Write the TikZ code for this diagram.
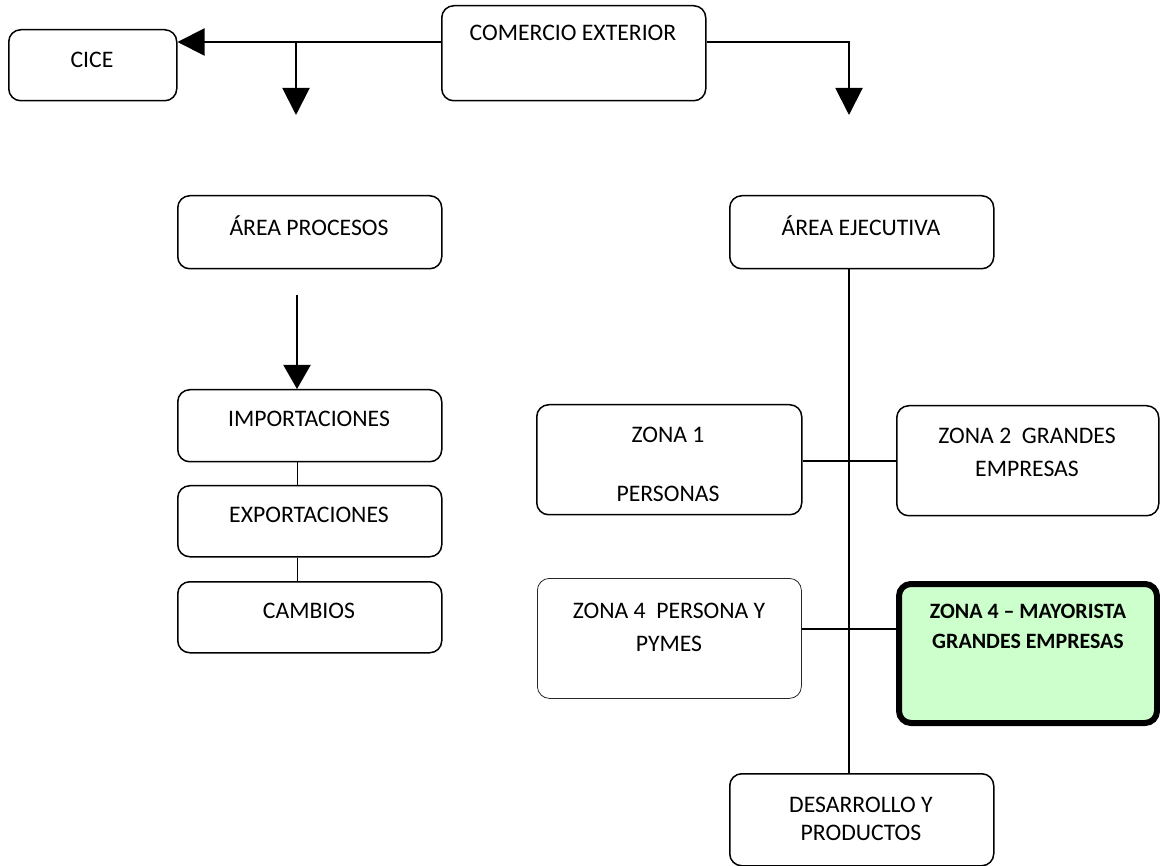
\documentclass[tikz,border=0pt]{standalone}
\usepackage{fontspec}
\setmainfont{Carlito}
\usetikzlibrary{arrows.meta}
\definecolor{lightgreen}{HTML}{CCFFCC}
\begin{document}
\begin{tikzpicture}[x=1pt,y=-1pt,
  box/.style={draw, line width=1.5pt, rounded corners=12pt, inner sep=0pt, anchor=north west},
  txt/.style={anchor=base, inner sep=0pt, font=\fontsize{23.7}{33}\selectfont},
  btxt/.style={anchor=base, inner sep=0pt, font=\fontsize{21.9}{30}\selectfont\bfseries},
  conn/.style={line width=2pt},
  thin/.style={line width=1pt},
  arr/.style={conn, -{Triangle[length=27pt,width=27pt]}},
  arrs/.style={conn, -{Triangle[length=24pt,width=27pt]}}]
\useasboundingbox (0,0) rectangle (1160,866);
% boxes
\node[box, minimum width=168pt, minimum height=71pt] (cice) at (8,29) {};
\node[box, minimum width=264pt, minimum height=95pt] (com) at (441,5) {};
\node[box, minimum width=264pt, minimum height=73pt] (proc) at (177,195) {};
\node[box, minimum width=264pt, minimum height=72pt] (imp) at (177,389) {};
\node[box, minimum width=264pt, minimum height=71pt] (exp) at (177,485) {};
\node[box, minimum width=264pt, minimum height=71pt] (cam) at (177,581) {};
\node[box, minimum width=264pt, minimum height=73pt] (ejec) at (729,195) {};
\node[box, minimum width=265pt, minimum height=110pt] (z1) at (536,404) {};
\node[box, minimum width=262pt, minimum height=110pt] (z2) at (896,405) {};
\node[box, line width=0.8pt, draw=black!85, minimum width=264pt, minimum height=120pt] (z4) at (537,578) {};
\node[box, line width=6pt, fill=lightgreen, minimum width=258pt, minimum height=139pt] (z4m) at (896,581) {};
\node[box, minimum width=264pt, minimum height=92pt] (des) at (729,773) {};
% texts
\node[txt] (tcice) at (92,68) {CICE};
\node[txt] (tcom) at (573,41) {COMERCIO EXTERIOR};
\node[txt] (tproc) at (309,236) {ÁREA PROCESOS};
\node[txt] (timp) at (309,427) {IMPORTACIONES};
\node[txt] (texp) at (309,522) {EXPORTACIONES};
\node[txt] (tcam) at (309,618) {CAMBIOS};
\node[txt] (tejec) at (861,236) {ÁREA EJECUTIVA};
\node[txt] (tz1a) at (668,443) {ZONA 1};
\node[txt] (tz1b) at (668,501) {PERSONAS};
\node[txt] (tz2a) at (1027,444) {ZONA 2\ \ GRANDES};
\node[txt] (tz2b) at (1027,477) {EMPRESAS};
\node[txt] (tz4a) at (669,618) {ZONA 4\ \ PERSONA Y};
\node[txt] (tz4b) at (669,651) {PYMES};
\node[btxt] (tz4ma) at (1028,618) {ZONA 4 – MAYORISTA};
\node[btxt] (tz4mb) at (1028,648) {GRANDES EMPRESAS};
\node[txt] (tdesa) at (861,812) {DESARROLLO Y};
\node[txt] (tdesb) at (861,840) {PRODUCTOS};
% coordinates
\coordinate (topy) at (0,42);
\coordinate (dl) at (296,115);
\coordinate (dr) at (849,115);
\coordinate (ps) at (297,295);
\coordinate (spine) at (849,0);
\coordinate (row1) at (0,461);
\coordinate (row2) at (0,629);
% connectors
\draw[arr] (com.west |- topy) -- (cice.east |- topy);
\draw[arr] (dl |- topy) -- (dl);
\draw[arr] (com.east |- topy) -| (dr);
\draw[arrs] (ps) -- (ps |- imp.north);
\draw[thin] (ps |- imp.south) -- (ps |- exp.north);
\draw[thin] (ps |- exp.south) -- (ps |- cam.north);
\draw[conn] (spine |- ejec.south) -- (spine |- des.north);
\draw[conn] (z1.east |- row1) -- (z2.west |- row1);
\draw[conn] (z4.east |- row2) -- (z4m.west |- row2);
\end{tikzpicture}
\end{document}
